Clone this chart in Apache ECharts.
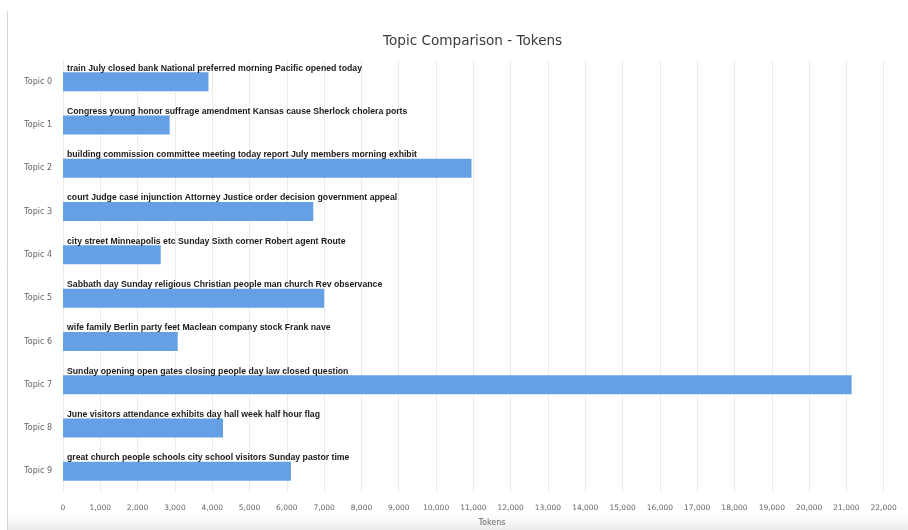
<!DOCTYPE html>
<html>
<head>
<meta charset="utf-8">
<script src="https://cdn.jsdelivr.net/npm/echarts@6/dist/echarts.min.js"></script>
<style>
  html, body { margin: 0; padding: 0; background: #fff; }
  #chart { width: 908px; height: 530px; }
</style>
</head>
<body>
<div id="chart"></div>
<script>
// topics, token counts and the top words shown over each bar
const topics = ['Topic 0', 'Topic 1', 'Topic 2', 'Topic 3', 'Topic 4', 'Topic 5', 'Topic 6', 'Topic 7', 'Topic 8', 'Topic 9'];
const tokens = [3900, 2860, 10950, 6710, 2620, 7000, 3075, 21140, 4290, 6110];
const topWords = [
  'train July closed bank National preferred morning Pacific opened today',
  'Congress young honor suffrage amendment Kansas cause Sherlock cholera ports',
  'building commission committee meeting today report July members morning exhibit',
  'court Judge case injunction Attorney Justice order decision government appeal',
  'city street Minneapolis etc Sunday Sixth corner Robert agent Route',
  'Sabbath day Sunday religious Christian people man church Rev observance',
  'wife family Berlin party feet Maclean company stock Frank nave',
  'Sunday opening open gates closing people day law closed question',
  'June visitors attendance exhibits day hall week half hour flag',
  'great church people schools city school visitors Sunday pastor time'
];

const chart = echarts.init(document.getElementById('chart'));

const option = {
  animation: false,
  backgroundColor: '#fff',
  title: {
    text: 'Topic Comparison - Tokens',
    left: 378,
    top: 29,
    textStyle: { fontFamily: 'DejaVu Sans', fontSize: 13.6, fontWeight: 'normal', color: '#3a3a3a' }
  },
  graphic: [
    { type: 'line', shape: { x1: 7.5, y1: 11, x2: 7.5, y2: 530 }, style: { stroke: '#d6d6d6', lineWidth: 1 } },
    {
      type: 'rect', shape: { x: 8, y: 514, width: 900, height: 16 },
      style: {
        fill: new echarts.graphic.LinearGradient(0, 0, 0, 1, [
          { offset: 0, color: '#ffffff' }, { offset: 1, color: '#ececec' }
        ])
      },
      z: -1
    }
  ],
  grid: { left: 63, top: 60, width: 858, height: 433, containLabel: false, outerBoundsMode: 'none' },
  xAxis: {
    type: 'value',
    min: 0,
    max: 23000,
    interval: 1000,
    name: 'Tokens',
    nameLocation: 'middle',
    nameGap: 26,
    nameTextStyle: { fontFamily: 'DejaVu Sans', fontSize: 8, color: '#666' },
    axisLine: { show: false },
    axisTick: { show: false },
    axisLabel: {
      margin: 11,
      fontFamily: 'DejaVu Sans', fontSize: 7.5, color: '#666',
      formatter: v => v.toLocaleString('en-US')
    },
    splitLine: { lineStyle: { color: '#ebebeb', width: 1 } }
  },
  yAxis: {
    type: 'category',
    data: topics,
    inverse: true,
    axisLine: { show: false },
    axisTick: { show: false },
    splitLine: { show: false },
    axisLabel: { margin: 11, fontFamily: 'DejaVu Sans', fontSize: 8, color: '#666' }
  },
  series: [{
    type: 'bar',
    data: tokens,
    barWidth: 19,
    itemStyle: { color: '#64a0e3' },
    label: {
      show: true,
      position: [4, 1],
      verticalAlign: 'bottom',
      align: 'left',
      fontFamily: 'Liberation Sans',
      fontWeight: 'bold',
      fontSize: 8.7,
      lineHeight: 10,
      color: '#1a1a1a',
      formatter: p => topWords[p.dataIndex]
    }
  }]
};

chart.setOption(option);
</script>
</body>
</html>
